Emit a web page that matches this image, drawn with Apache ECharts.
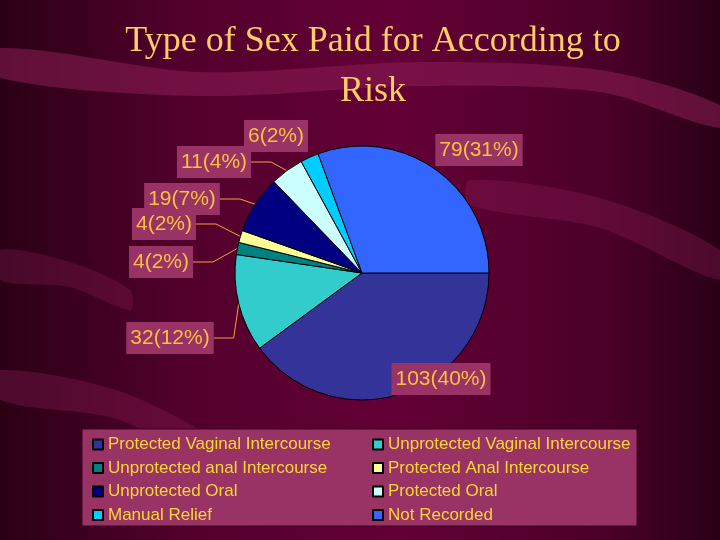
<!DOCTYPE html>
<html><head><meta charset="utf-8">
<script src="https://cdn.jsdelivr.net/npm/echarts@6/dist/echarts.min.js"></script>
<style>html,body{margin:0;padding:0;background:#3a0020}#chart{width:720px;height:540px}</style>
</head><body><div id="chart"></div>
<script>
const titleText = 'Type of Sex Paid for According to\nRisk';
const categories = ['Protected Vaginal Intercourse','Unprotected Vaginal Intercourse','Unprotected anal Intercourse','Protected Anal Intercourse','Unprotected Oral','Protected Oral','Manual Relief','Not Recorded'];
const values = [103, 32, 4, 4, 19, 11, 6, 79];
const legendLeftCol = [categories[0], categories[2], categories[4], categories[6]];
const legendRightCol = [categories[1], categories[3], categories[5], categories[7]];

const chart = echarts.init(document.getElementById('chart'), null, {renderer:'canvas'});
const legendCommon = {
  orient:'vertical', top:436, itemWidth:10, itemHeight:10, itemGap:6.5, padding:0,
  icon:'rect', selectedMode:false,
  textStyle:{color:'#FFD633', fontSize:17, fontFamily:'Liberation Sans', lineHeight:17}
};
// label box centres (annotation placement, as in the original slide)
const labelPlace = [[441,379],[170,338],[161,262],[164,224],[182,199],[214,162],[276,136],[479,150]];
const noLine = {0:true, 6:true, 7:true};
const band = (pts, fill) => ({type:'polygon', z:-9, silent:true, shape:{points:pts, smooth:0.3}, style:{fill:fill}});
chart.setOption({
  backgroundColor:'#3a0020',
  color:['#333399','#33CCCC','#008080','#FFFF99','#000080','#CCFFFF','#00CCFF','#3366FF'],
  title:{text:titleText, left:368, top:12, textAlign:'center',
    textStyle:{color:'#FFCC66', fontSize:36, fontWeight:'normal', fontFamily:'Liberation Serif', lineHeight:50}},
  graphic:[
    {type:'rect', z:-10, silent:true, shape:{x:0,y:0,width:720,height:540},
      style:{fill:{type:'linear',x:0,y:0,x2:1,y2:0,colorStops:[
        {offset:0,color:'#2a0015'},{offset:0.25,color:'#52002c'},{offset:0.55,color:'#640036'},{offset:0.85,color:'#4a0028'},{offset:1,color:'#2a0016'}]}}},
    band([[0,48],[200,72],[420,62],[600,70],[720,105],[720,128],[600,92],[420,86],[200,96],[0,78]], 'rgba(140,30,85,0.55)'),
    band([[0,370],[130,395],[260,470],[250,490],[120,420],[0,400]], 'rgba(140,30,85,0.35)'),
    band([[470,180],[600,198],[720,250],[720,280],[600,228],[470,205]], 'rgba(140,30,85,0.35)'),
    band([[0,250],[70,262],[130,290],[130,310],[70,287],[0,280]], 'rgba(140,30,85,0.3)'),
    {type:'rect', z:-5, silent:true, shape:{x:82,y:429,width:555,height:97},
      style:{fill:'#993366', stroke:'#3a0020', lineWidth:1}}
  ],
  legend:[
    Object.assign({left:92, data:legendLeftCol}, legendCommon),
    Object.assign({left:372, data:legendRightCol}, legendCommon)
  ],
  series:[{
    type:'pie', center:[362,273], radius:127, startAngle:0, clockwise:true,
    percentPrecision:0, avoidLabelOverlap:false,
    itemStyle:{borderColor:'#000000', borderWidth:1},
    emphasis:{disabled:true},
    label:{show:true, position:'outside', formatter:'{c}({d}%)', color:'#FFBF40', fontSize:21,
      fontFamily:'Liberation Sans', backgroundColor:'#993366', padding:[6,4,5,4]},
    labelLine:{show:true, length:12, length2:20, lineStyle:{color:'#F5A040', width:1}},
    labelLayout: function(p){
      const c = labelPlace[p.dataIndex];
      return {x:c[0], y:c[1], align:'center', verticalAlign:'middle'};
    },
    data: categories.map((n,i)=>({name:n, value:values[i], labelLine:{show:!noLine[i]}}))
  }]
});
</script></body></html>
